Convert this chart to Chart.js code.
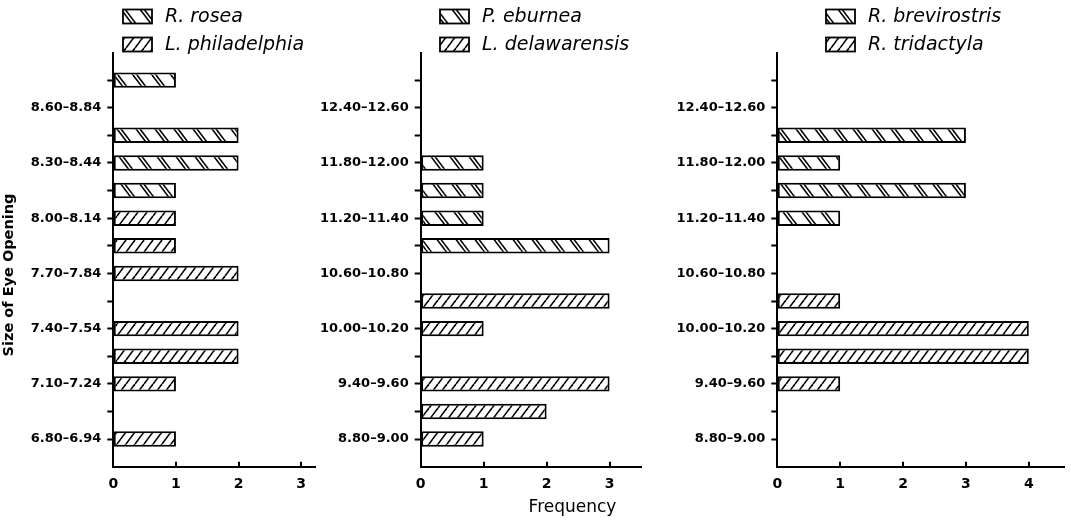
<!DOCTYPE html>
<html>
<head>
<meta charset="utf-8">
<script src="https://cdn.jsdelivr.net/npm/chart.js@4/dist/chart.umd.min.js"></script>
<style>
  html, body { margin: 0; padding: 0; background: #fff; }
  body { width: 1071px; height: 520px; position: relative; overflow: hidden; }
  canvas { position: absolute; top: 0; }
</style>
</head>
<body>
<canvas id="c1" width="330" height="520" style="left:0px"></canvas>
<canvas id="c2" width="348" height="520" style="left:312px"></canvas>
<canvas id="c3" width="411" height="520" style="left:660px"></canvas>
<script>
// ---------- data (top to bottom along the size axis) ----------
const sizeClassesA = ['', '8.60–8.84', '', '8.30–8.44', '', '8.00–8.14', '', '7.70–7.84', '', '7.40–7.54', '', '7.10–7.24', '', '6.80–6.94'];
const roseaCounts        = [1, 0, 2, 2, 1, 0, 0, 0, 0, 0, 0, 0, 0, 0];
const philadelphiaCounts = [0, 0, 0, 0, 0, 1, 1, 2, 0, 2, 2, 1, 0, 1];

const sizeClassesB = ['', '12.40–12.60', '', '11.80–12.00', '', '11.20–11.40', '', '10.60–10.80', '', '10.00–10.20', '', '9.40–9.60', '', '8.80–9.00'];
const eburneaCounts      = [0, 0, 0, 1, 1, 1, 3, 0, 0, 0, 0, 0, 0, 0];
const delawarensisCounts = [0, 0, 0, 0, 0, 0, 0, 0, 3, 1, 0, 3, 2, 1];

const sizeClassesC = ['', '12.40–12.60', '', '11.80–12.00', '', '11.20–11.40', '', '10.60–10.80', '', '10.00–10.20', '', '9.40–9.60', '', '8.80–9.00'];
const brevirostrisCounts = [0, 0, 3, 1, 3, 1, 0, 0, 0, 0, 0, 0, 0, 0];
const tridactylaCounts   = [0, 0, 0, 0, 0, 0, 0, 0, 1, 4, 4, 1, 0, 0];

const seriesNamesA = ['R. rosea', 'L. philadelphia'];
const seriesNamesB = ['P. eburnea', 'L. delawarensis'];
const seriesNamesC = ['R. brevirostris', 'R. tridactyla'];

const yAxisTitle = 'Size of Eye Opening';
const xAxisTitle = 'Frequency';

// ---------- hatch patterns ----------
function makeHatch(kind) {
  const tile = document.createElement('canvas');
  let w, h, offsets, lw;
  if (kind === 'back') { w = 19; h = 25; offsets = [0, 4]; lw = 1.6; }
  else { w = 9; h = 12; offsets = [0]; lw = 1.6; }
  tile.width = w; tile.height = h;
  const t = tile.getContext('2d');
  t.fillStyle = '#fff'; t.fillRect(0, 0, w, h);
  t.strokeStyle = '#000'; t.lineWidth = lw;
  for (const off of offsets) {
    for (let k = -2; k <= 1; k++) {
      t.beginPath();
      if (kind === 'back') { t.moveTo(k * w + off, 0); t.lineTo((k + 1) * w + off, h); }
      else { t.moveTo(k * w + off, h); t.lineTo((k + 1) * w + off, 0); }
      t.stroke();
    }
  }
  return document.createElement('canvas').getContext('2d').createPattern(tile, 'repeat');
}
const backHatch = makeHatch('back');
const fwdHatch = makeHatch('fwd');

// ---------- plugins ----------
const insideXTicks = {
  id: 'insideXTicks',
  afterDraw(chart) {
    const s = chart.scales.x, c = chart.ctx;
    c.save(); c.strokeStyle = '#000'; c.lineWidth = 2;
    s.ticks.forEach(t => {
      const px = Math.round(s.getPixelForValue(t.value));
      c.beginPath(); c.moveTo(px, s.top); c.lineTo(px, s.top - 5); c.stroke();
    });
    c.restore();
  }
};

const hatchLegend = {
  id: 'hatchLegend',
  afterDraw(chart, args, opts) {
    const c = chart.ctx;
    c.save();
    chart.data.datasets.forEach((ds, i) => {
      const cy = opts.rowY[i];
      c.fillStyle = ds.backgroundColor;
      c.fillRect(opts.x, cy - 7, 29, 14);
      c.strokeStyle = '#000'; c.lineWidth = 1.8;
      c.strokeRect(opts.x, cy - 7, 29, 14);
      c.fillStyle = '#000';
      c.font = 'italic 19px "DejaVu Sans"';
      c.textBaseline = 'middle';
      c.textAlign = 'left';
      c.fillText(ds.label, opts.x + 42, cy + 1);
    });
    c.restore();
  }
};

const freeTitles = {
  id: 'freeTitles',
  afterDraw(chart, args, opts) {
    const c = chart.ctx;
    c.save(); c.fillStyle = '#000';
    if (opts.yTitle) {
      c.translate(opts.yTitle.x, opts.yTitle.y);
      c.rotate(-Math.PI / 2);
      c.font = 'bold 14.5px "DejaVu Sans"';
      c.textAlign = 'center'; c.textBaseline = 'middle';
      c.fillText(opts.yTitle.text, 0, 0);
      c.setTransform(1, 0, 0, 1, 0, 0);
    }
    if (opts.xTitle) {
      c.font = '17px "DejaVu Sans"';
      c.textAlign = 'center'; c.textBaseline = 'alphabetic';
      c.fillText(opts.xTitle.text, opts.xTitle.x, opts.xTitle.y);
    }
    c.restore();
  }
};

// ---------- build ----------
function buildPanel(canvasId, cfg) {
  const labels = [''].concat(cfg.classes, ['']);
  const nTicks = labels.length;
  const datasets = cfg.series.map(s => ({
    label: s.name,
    data: [null].concat(s.data, [null]),
    backgroundColor: s.pattern,
    borderColor: '#000',
    borderWidth: 2,
    borderSkipped: false,
    grouped: false,
    barPercentage: 0.56,
    categoryPercentage: 1
  }));
  const tickFont = { family: 'DejaVu Sans', weight: 'bold', size: 13 };
  return new Chart(document.getElementById(canvasId), {
    type: 'bar',
    data: { labels, datasets },
    options: {
      responsive: false,
      animation: false,
      indexAxis: 'y',
      layout: { padding: { left: 0, top: 52.5, right: cfg.padRight, bottom: 0 } },
      plugins: {
        legend: { display: false },
        tooltip: { enabled: false },
        hatchLegend: { x: cfg.legendX, rowY: [16.5, 44.5] },
        freeTitles: { yTitle: cfg.yTitle, xTitle: cfg.xTitle }
      },
      scales: {
        y: {
          type: 'category',
          offset: false,
          grid: {
            offset: false, drawOnChartArea: false, drawTicks: true,
            tickLength: 6, tickWidth: 2,
            tickColor: ctx => (ctx.index === 0 || ctx.index === nTicks - 1) ? 'rgba(0,0,0,0)' : '#000'
          },
          border: { display: true, color: '#000', width: 2 },
          ticks: { autoSkip: false, color: '#000', font: tickFont, padding: 6 },
          afterFit: s => { s.width = cfg.axisX; }
        },
        x: {
          type: 'linear', min: 0, max: cfg.xMax,
          grid: { drawOnChartArea: false, drawTicks: false },
          border: { display: true, color: '#000', width: 2 },
          ticks: { stepSize: 1, includeBounds: false, color: '#000', font: { family: 'DejaVu Sans', weight: 'bold', size: 14 }, padding: 9 },
          afterFit: s => { s.height = 53.3; }
        }
      }
    },
    plugins: [insideXTicks, hatchLegend, freeTitles]
  });
}

buildPanel('c1', {
  classes: sizeClassesA,
  series: [{ name: seriesNamesA[0], data: roseaCounts, pattern: backHatch },
           { name: seriesNamesA[1], data: philadelphiaCounts, pattern: fwdHatch }],
  axisX: 113.3, padRight: 15, xMax: 3.22, legendX: 123,
  yTitle: { text: yAxisTitle, x: 9, y: 275 }
});
buildPanel('c2', {
  classes: sizeClassesB,
  series: [{ name: seriesNamesB[0], data: eburneaCounts, pattern: backHatch },
           { name: seriesNamesB[1], data: delawarensisCounts, pattern: fwdHatch }],
  axisX: 108.7, padRight: 18.3, xMax: 3.51, legendX: 128,
  xTitle: { text: xAxisTitle, x: 260.5, y: 512 }
});
buildPanel('c3', {
  classes: sizeClassesC,
  series: [{ name: seriesNamesC[0], data: brevirostrisCounts, pattern: backHatch },
           { name: seriesNamesC[1], data: tridactylaCounts, pattern: fwdHatch }],
  axisX: 117.3, padRight: 7, xMax: 4.56, legendX: 166
});
</script>
</body>
</html>
